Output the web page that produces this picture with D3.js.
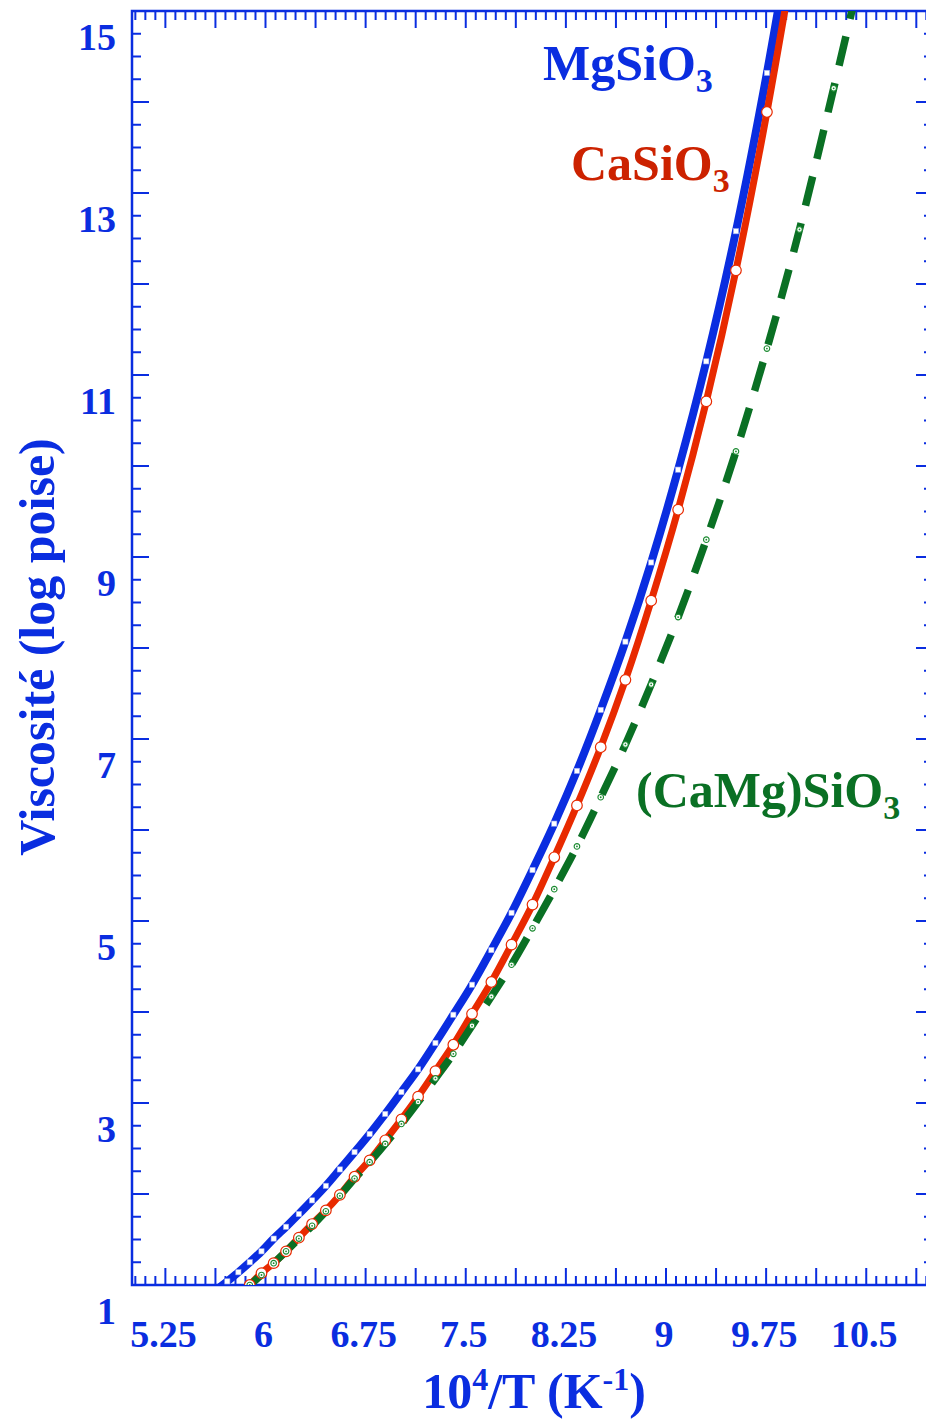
<!DOCTYPE html>
<html>
<head>
<meta charset="utf-8">
<script src="https://cdn.jsdelivr.net/npm/d3@7"></script>
<style>
  html, body { margin: 0; padding: 0; background: #fff; }
  svg { display: block; }
  text { font-family: "Liberation Serif", "DejaVu Serif", serif; font-weight: bold; }
</style>
</head>
<body>
<svg id="chart"></svg>
<script>
// 10^4/T values (T from 1775 K down to 950 K, steps of 25 K)
var invT = [5.634, 5.714, 5.797, 5.882, 5.970, 6.061, 6.154, 6.250, 6.349, 6.452,
            6.557, 6.667, 6.780, 6.897, 7.018, 7.143, 7.273, 7.407, 7.547, 7.692,
            7.843, 8.000, 8.163, 8.333, 8.511, 8.696, 8.889, 9.091, 9.302, 9.524,
            9.756, 10.000, 10.256, 10.526];

// log viscosity (poise)
var mgsio3 = [0.95, 1.04, 1.14, 1.25, 1.37, 1.51, 1.64, 1.78, 1.93, 2.09,
              2.27, 2.46, 2.66, 2.88, 3.12, 3.37, 3.66, 3.97, 4.30, 4.68,
              5.09, 5.56, 6.07, 6.65, 7.32, 8.07, 8.94, 9.96, 11.15, 12.58,
              14.32, 16.4, null, null];
var casio3 = [null, null, 0.87, 1.00, 1.13, 1.24, 1.37, 1.52, 1.67, 1.82,
              1.99, 2.19, 2.37, 2.59, 2.82, 3.07, 3.35, 3.64, 3.98, 4.33,
              4.74, 5.18, 5.70, 6.27, 6.91, 7.65, 8.52, 9.52, 10.71, 12.15,
              13.89, 15.95, null, null];
var camgsio3 = [null, null, 0.88, 1.00, 1.11, 1.24, 1.37, 1.51, 1.65, 1.81,
                1.98, 2.17, 2.35, 2.55, 2.77, 3.01, 3.27, 3.54, 3.85, 4.17,
                4.52, 4.92, 5.35, 5.82, 6.36, 6.94, 7.60, 8.34, 9.19, 10.16,
                11.29, 12.60, 14.15, 15.85];

var xLabels = [5.25, 6, 6.75, 7.5, 8.25, 9, 9.75, 10.5];
var yLabels = [1, 3, 5, 7, 9, 11, 13, 15];

var blue = "#0a2de0", red = "#e82a00", redText = "#cc2200", green = "#0a7024";

function draw() {
    var width = 926, height = 1420;
    var left = 132, top = 11, plotW = 801, plotH = 1274;

    var svg = d3.select("#chart")
        .attr("width", width)
        .attr("height", height);

    var x = d3.scaleLinear().domain([5, 11]).range([left, left + plotW]);
    var y = d3.scaleLinear().domain([1, 15]).range([top + plotH, top]);

    svg.append("clipPath").attr("id", "plotclip")
        .append("rect")
        .attr("x", left).attr("y", top)
        .attr("width", plotW).attr("height", plotH);

    // frame
    svg.append("rect")
        .attr("x", left).attr("y", top)
        .attr("width", plotW).attr("height", plotH)
        .attr("fill", "none")
        .attr("stroke", blue)
        .attr("stroke-width", 2.5);

    // x ticks, minor every 0.075, major every 0.375
    var xt = [];
    for (var k = -4; k < 80; k++) {
        var v = 5.25 + k * 0.075;
        if (v > 5.001 && v < 10.999) xt.push({ v: v, major: k % 5 === 0 });
    }
    var tickG = svg.append("g")
        .attr("stroke", blue)
        .attr("stroke-width", 2);
    tickG.selectAll("line.xb").data(xt).enter().append("line")
        .attr("class", "xb")
        .attr("x1", function(d) { return x(d.v); })
        .attr("x2", function(d) { return x(d.v); })
        .attr("y1", y(1))
        .attr("y2", function(d) { return y(1) - (d.major ? 17 : 9); });
    tickG.selectAll("line.xt").data(xt).enter().append("line")
        .attr("class", "xt")
        .attr("x1", function(d) { return x(d.v); })
        .attr("x2", function(d) { return x(d.v); })
        .attr("y1", y(15))
        .attr("y2", function(d) { return y(15) + (d.major ? 17 : 9); });

    // y ticks, minor every 0.25, major every 1
    var yt = d3.range(1.25, 15, 0.25).map(function(v) {
        return { v: v, major: Math.abs(v - Math.round(v)) < 1e-6 };
    });
    tickG.selectAll("line.yl").data(yt).enter().append("line")
        .attr("class", "yl")
        .attr("x1", x(5))
        .attr("x2", function(d) { return x(5) + (d.major ? 17 : 9); })
        .attr("y1", function(d) { return y(d.v); })
        .attr("y2", function(d) { return y(d.v); });
    tickG.selectAll("line.yr").data(yt).enter().append("line")
        .attr("class", "yr")
        .attr("x1", x(11))
        .attr("x2", function(d) { return x(11) - (d.major ? 17 : 9); })
        .attr("y1", function(d) { return y(d.v); })
        .attr("y2", function(d) { return y(d.v); });

    // tick labels
    svg.append("g").selectAll("text").data(xLabels).enter().append("text")
        .attr("x", function(d) { return x(d) - 2; })
        .attr("y", 1347)
        .attr("text-anchor", "middle")
        .attr("font-size", 38)
        .attr("fill", blue)
        .text(function(d) { return d; });

    svg.append("g").selectAll("text").data(yLabels).enter().append("text")
        .attr("x", 116)
        .attr("y", function(d) { return y(d) + 39; })
        .attr("text-anchor", "end")
        .attr("font-size", 38)
        .attr("fill", blue)
        .text(function(d) { return d; });

    // axis titles
    var xt1 = svg.append("text")
        .attr("x", 534)
        .attr("y", 1408)
        .attr("text-anchor", "middle")
        .attr("font-size", 50)
        .attr("fill", blue);
    xt1.append("tspan").text("10");
    xt1.append("tspan").attr("font-size", 32).attr("dy", -18).text("4");
    xt1.append("tspan").attr("dy", 18).text("/T (K");
    xt1.append("tspan").attr("font-size", 32).attr("dy", -18).text("-1");
    xt1.append("tspan").attr("dy", 18).text(")");

    svg.append("text")
        .attr("transform", "translate(54,647) rotate(-90)")
        .attr("text-anchor", "middle")
        .attr("font-size", 50)
        .attr("fill", blue)
        .text("Viscosité (log poise)");

    // curves
    var series = [
        { values: mgsio3, color: blue, width: 8, dash: null },
        { values: casio3, color: red, width: 7, dash: null },
        { values: camgsio3, color: green, width: 7.5, dash: "30,18" }
    ];
    series.forEach(function(s) {
        s.points = invT.map(function(t, i) { return [t, s.values[i]]; })
            .filter(function(p) { return p[1] != null; });
    });

    var line = d3.line()
        .x(function(d) { return x(d[0]); })
        .y(function(d) { return y(d[1]); })
        .curve(d3.curveMonotoneX);

    var plot = svg.append("g").attr("clip-path", "url(#plotclip)");

    plot.selectAll("path.curve").data(series).enter().append("path")
        .attr("class", "curve")
        .attr("d", function(s) { return line(s.points); })
        .attr("fill", "none")
        .attr("stroke", function(s) { return s.color; })
        .attr("stroke-width", function(s) { return s.width; })
        .attr("stroke-dasharray", function(s) { return s.dash; });

    // markers
    plot.append("g").selectAll("rect").data(series[0].points).enter().append("rect")
        .attr("x", function(d) { return x(d[0]) - 2.6; })
        .attr("y", function(d) { return y(d[1]) - 2.6; })
        .attr("width", 5.2).attr("height", 5.2)
        .attr("fill", "#fff")
        .attr("stroke", "#9aa8f0")
        .attr("stroke-width", 0.6);

    plot.append("g").selectAll("circle").data(series[1].points).enter().append("circle")
        .attr("cx", function(d) { return x(d[0]); })
        .attr("cy", function(d) { return y(d[1]); })
        .attr("r", 5.3)
        .attr("fill", "#fff")
        .attr("stroke", red)
        .attr("stroke-width", 1.2);

    var gm = plot.append("g").selectAll("g").data(series[2].points).enter().append("g")
        .attr("transform", function(d) { return "translate(" + x(d[0]) + "," + y(d[1]) + ")"; });
    gm.append("circle").attr("r", 2.8)
        .attr("fill", "#fff").attr("stroke", "#1a8a30").attr("stroke-width", 1.1);
    gm.append("circle").attr("r", 0.9).attr("fill", "#1a8a30");

    // series labels
    function formula(txt, sub, px, py, color) {
        var t = svg.append("text")
            .attr("x", px).attr("y", py)
            .attr("font-size", 50)
            .attr("fill", color);
        t.append("tspan").text(txt);
        t.append("tspan").attr("font-size", 34).attr("dy", 12).text(sub);
    }
    formula("MgSiO", "3", 543, 80, blue);
    formula("CaSiO", "3", 571, 180, redText);
    formula("(CaMg)SiO", "3", 636, 807, green);
}

window.onload = draw;
</script>
</body>
</html>
